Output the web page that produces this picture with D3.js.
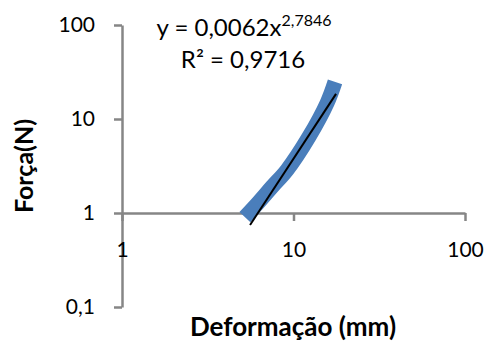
<!DOCTYPE html>
<html>
<head>
<meta charset="utf-8">
<script src="https://cdn.jsdelivr.net/npm/d3@7/dist/d3.min.js"></script>
<style>
  html, body { margin: 0; padding: 0; background: #fff; }
  svg { display: block; }
  text { font-family: Lato, "Open Sans", sans-serif; fill: #000; }
</style>
</head>
<body>
<svg id="chart" width="486" height="342"></svg>
<script>
// Data
const deformacao = [5.21, 6.21, 7.5, 9.17, 12.3, 15.7, 17.46];
const forca      = [0.906, 1.28, 1.9, 2.87, 6.44, 14.8, 24.8];
const trendX = [5.58, 17.7];
const trendY = [0.745, 18.5];
const xTicks = [1, 10, 100];
const yTicks = [0.1, 1, 10, 100];
const xTitle = "Deformação (mm)";
const yTitle = "Força(N)";
const eqMain = "y = 0,0062x";
const eqExp = "2,7846";
const r2Text = "R² = 0,9716";

const fmt = d => String(d).replace(".", ",");
const svg = d3.select("#chart");
const x = d3.scaleLog().domain([1, 100]).range([122, 465]);
const y = d3.scaleLog().domain([0.1, 100]).range([307, 25]);
const axisColor = "#868686";

// Y axis
const gy = svg.append("g").attr("transform", `translate(${x(1)},0)`)
  .call(d3.axisLeft(y).tickValues(yTicks).tickFormat(fmt).tickSize(8).tickSizeOuter(0).tickPadding(19));
// X axis at y = 1
const gx = svg.append("g").attr("transform", `translate(0,${y(1)})`)
  .call(d3.axisBottom(x).tickValues(xTicks).tickFormat(fmt).tickSize(8).tickSizeOuter(0).tickPadding(21));

[gx, gy].forEach(g => {
  g.select(".domain").attr("stroke", axisColor).attr("stroke-width", 2.5);
  g.selectAll(".tick line").attr("stroke", axisColor).attr("stroke-width", 2.5);
  g.selectAll(".tick text").attr("font-size", 21).attr("font-family", "Lato").attr("fill", "#000");
});

// Data series
const pts = deformacao.map((d, i) => [d, forca[i]]);
svg.append("path")
  .datum(pts)
  .attr("fill", "none")
  .attr("stroke", "#4A7EBB")
  .attr("stroke-width", 15)
  .attr("stroke-linejoin", "miter")
  .attr("stroke-linecap", "butt")
  .attr("d", d3.line().x(d => x(d[0])).y(d => y(d[1])).curve(d3.curveCatmullRom));

// Trendline
const tpts = trendX.map((d, i) => [d, trendY[i]]);
svg.append("path")
  .datum(tpts)
  .attr("fill", "none")
  .attr("stroke", "#000")
  .attr("stroke-width", 2)
  .attr("d", d3.line().x(d => x(d[0])).y(d => y(d[1])));

// Equation
const eq = svg.append("text").attr("x", 244).attr("y", 36).attr("text-anchor", "middle").attr("font-size", 24);
eq.append("tspan").text(eqMain);
eq.append("tspan").attr("font-size", 16).attr("dy", -10).text(eqExp);
svg.append("text").attr("x", 243).attr("y", 68).attr("text-anchor", "middle").attr("font-size", 24).text(r2Text);

// Axis titles
svg.append("text").attr("x", 293).attr("y", 336).attr("text-anchor", "middle")
  .attr("font-size", 26).attr("font-weight", "bold").text(xTitle);
svg.append("text").attr("transform", "translate(33,166) rotate(-90)").attr("text-anchor", "middle")
  .attr("font-size", 25).attr("font-weight", "bold").text(yTitle);
</script>
</body>
</html>
